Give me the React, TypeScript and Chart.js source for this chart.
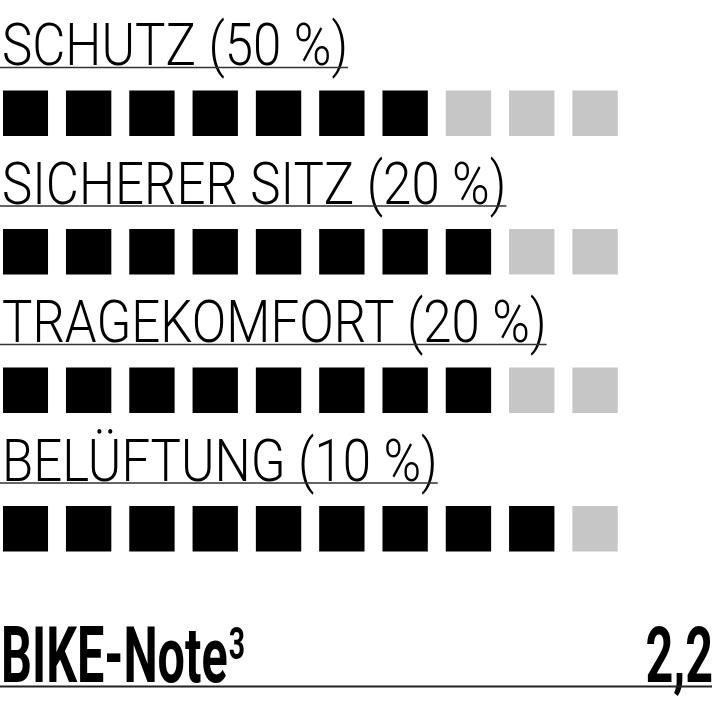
import React, { useEffect, useRef } from "react";
import Chart from "chart.js/auto";

// rating rows: name, weight in the overall mark, boxes filled out of 10
const categories = ["SCHUTZ", "SICHERER SITZ", "TRAGEKOMFORT", "BELÜFTUNG"];
const weights = [50, 20, 20, 10];
const scores = [7, 8, 8, 9];
const maxScore = 10;
const noteLabel = "BIKE-Note";
const noteSup = "3";
const noteValue = "2,2";

const BOX = 0.706; // part of one slot covered by a box
const FILLED = "#000000";
const EMPTY = "#c6c6c6";

const LABEL_FONT = "300 60px Roboto";
const LABEL_SX = 0.85;
const NOTE_FONT = "700 77px Roboto";
const SUP_FONT = "700 45px Roboto";
const NOTE_SX = 0.63;

const textPlugin = {
  id: "rowText",
  afterDraw(chart: any) {
    const { ctx, width } = chart;
    const meta = chart.getDatasetMeta(0);
    ctx.save();
    ctx.fillStyle = "#000";
    ctx.textBaseline = "alphabetic";

    meta.data.forEach((bar: any, i: number) => {
      const top = bar.y - bar.height / 2;
      const text = `${categories[i]} (${weights[i]} %)`;
      ctx.font = LABEL_FONT;
      const w = ctx.measureText(text).width * LABEL_SX;
      ctx.save();
      ctx.scale(LABEL_SX, 1);
      ctx.fillText(text, 2 / LABEL_SX, top - 25.5);
      ctx.restore();
      ctx.fillStyle = "#333";
      ctx.fillRect(0, top - 24, w + 2, 1.5);
      ctx.fillStyle = "#000";
    });

    // overall mark at the bottom
    const base = 681.5;
    ctx.save();
    ctx.scale(NOTE_SX, 1);
    ctx.textAlign = "left";
    ctx.font = NOTE_FONT;
    const x0 = 1 / NOTE_SX;
    ctx.fillText(noteLabel, x0, base);
    const lw = ctx.measureText(noteLabel).width;
    ctx.font = SUP_FONT;
    ctx.fillText(noteSup, x0 + lw + 2, base - 23);
    ctx.font = NOTE_FONT;
    ctx.textAlign = "right";
    ctx.fillText(noteValue, (width + 1) / NOTE_SX, base);
    ctx.restore();
    ctx.fillStyle = "#222";
    ctx.fillRect(0, base + 4, width, 2);
    ctx.restore();
  },
};

const App = () => {
  const chartRef = useRef<HTMLCanvasElement>(null);
  const chartInstance = useRef<Chart>();

  useEffect(() => {
    if (chartInstance.current) {
      chartInstance.current.destroy();
    }
    const myChartRef = chartRef.current?.getContext("2d");
    if (!myChartRef) return;

    const slots = Array.from({ length: maxScore }, (_, i) => i);

    chartInstance.current = new Chart(myChartRef, {
      type: "bar",
      data: {
        labels: categories,
        datasets: slots.map((i) => ({
          data: scores.map(() => [i, i + BOX]),
          backgroundColor: scores.map((s) => (s > i ? FILLED : EMPTY)),
          borderWidth: 0,
          barThickness: 45,
          grouped: false,
        })),
      },
      options: {
        indexAxis: "y",
        responsive: false,
        animation: false,
        layout: { padding: { left: 3, right: 76, top: 44, bottom: 109 } },
        plugins: {
          legend: { display: false },
          tooltip: { enabled: false },
        },
        scales: {
          x: { type: "linear", min: 0, max: maxScore, display: false },
          y: { type: "category", display: false, offset: true },
        },
      },
      plugins: [textPlugin],
    } as any);

    document.fonts
      .load(LABEL_FONT)
      .then(() => document.fonts.load(NOTE_FONT))
      .then(() => chartInstance.current?.draw());

    return () => {
      if (chartInstance.current) {
        chartInstance.current.destroy();
      }
    };
  }, []);

  return (
    <div style={{ position: "absolute", left: 0, top: 0 }}>
      <canvas
        ref={chartRef}
        width={712}
        height={707}
        style={{ display: "block", width: "712px", height: "707px" }}
      />
    </div>
  );
};

export default App;
